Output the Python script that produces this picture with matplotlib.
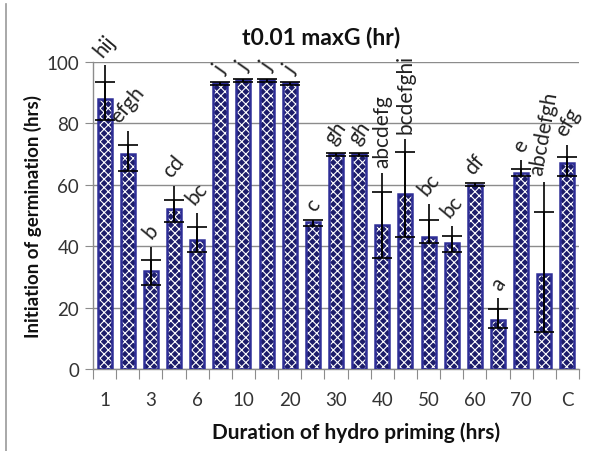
import matplotlib
matplotlib.use("Agg")
import matplotlib.pyplot as plt
from matplotlib.lines import Line2D

plt.rcParams['font.family'] = ['Lato', 'DejaVu Sans']
plt.rcParams['hatch.linewidth'] = 0.8

# ---- data ----
categories = ['1', '', '3', '', '6', '', '10', '', '20', '', '30', '', '40', '', '50', '', '60', '', '70', '', 'C']
values = [88, 70, 32, 52, 42, 93, 94, 94, 93, 48, 70, 70, 47, 57, 43, 41, 60, 16, 64, 31, 67]
cap_low = [81, 64.5, 27.4, 48, 38, 92.5, 93.5, 93.5, 92.5, 46.5, 69.5, 69.5, 36, 43, 41, 38, 59.5, 13.4, 63, 12, 63]
cap_high = [93.5, 73, 35.5, 55, 46.3, 93.5, 94.5, 94.5, 93.5, 48.5, 70.5, 70.5, 57.6, 70.6, 48.6, 43.3, 60.5, 19.5, 65, 51, 69]
whisker_top = [99, 77.5, 39.7, 59.7, 50.8, 93.5, 94.5, 94.5, 93.5, 48.5, 70.5, 70.5, 64, 75, 53.7, 46.6, 60.5, 23, 68, 61, 73]
letters = ['hij', 'efgh', 'b', 'cd', 'bc', 'j', 'j', 'j', 'j', 'c', 'gh', 'gh', 'abcdefg', 'bcdefghi',
           'bc', 'bc', 'df', 'a', 'e', 'abcdefgh', 'efg']
letter_rot = [50, 50, 50, 50, 50, 55, 55, 55, 55, 55, 55, 55, 90, 90, 50, 50, 50, 55, 60, 80, 60]
yticks = [0, 20, 40, 60, 80, 100]

fig = plt.figure(figsize=(5.92, 4.52), dpi=100)
ax = fig.add_axes([93/592, 82/452, (579-93)/592, (370-63)/452])

x = list(range(len(values)))
navy = '#1d1d6a'
ax.bar(x, values, width=0.6, color=navy, edgecolor='white', hatch='xxxx', linewidth=0, zorder=2)
ax.bar(x, values, width=0.6, fill=False, edgecolor='#2e2e96', linewidth=1.8, zorder=3)

lo = [v - c for v, c in zip(values, cap_low)]
hi_line = [t - v for v, t in zip(values, whisker_top)]
hi_cap = [c - v for v, c in zip(values, cap_high)]
ax.errorbar(x, values, yerr=[lo, hi_line], fmt='none', ecolor='black', elinewidth=1.2, capsize=0, zorder=4)
ax.errorbar(x, values, yerr=[lo, hi_cap], fmt='none', ecolor='black', elinewidth=1.2, capsize=7,
            capthick=1.2, zorder=4)

for i, (t, lab, r) in enumerate(zip(whisker_top, letters, letter_rot)):
    ax.annotate(lab, (i, t), xytext=(0, 4), textcoords='offset points', ha='center', va='bottom',
                rotation=r, fontsize=15, color='#222222', annotation_clip=False, zorder=5)

ax.set_ylim(0, 100)
ax.set_xlim(-0.5, len(values) - 0.5)
ax.set_yticks(yticks)
ax.yaxis.grid(True, color='#8c8c8c', linewidth=1.0)
ax.set_axisbelow(True)
for s in ['top', 'right']:
    ax.spines[s].set_visible(False)
for s in ['left', 'bottom']:
    ax.spines[s].set_color('#8c8c8c')
    ax.spines[s].set_linewidth(1.0)

ax.set_xticks([i - 0.5 for i in range(len(values) + 1)])
ax.set_xticklabels([])
ax.set_xticks(x, minor=True)
ax.set_xticklabels(categories, minor=True)
ax.tick_params(axis='x', which='major', length=7, color='#8c8c8c', direction='out')
ax.tick_params(axis='x', which='minor', length=0, pad=16, labelsize=13.5, labelcolor='#333333')
ax.tick_params(axis='y', length=6, color='#8c8c8c', labelsize=13.5, labelcolor='#333333', pad=4)

ax.set_ylabel('Initiation of germination (hrs)', fontsize=13.5, fontweight='bold', color='#111111', labelpad=3)
fig.text(356/592, 1 - 433/452, 'Duration of hydro priming (hrs)', ha='center', va='center',
         fontsize=15, fontweight='bold', color='#111111')
fig.text(321/592, 1 - 38/452, 't0.01 maxG (hr)', ha='center', va='center',
         fontsize=16.5, fontweight='bold', color='#111111')

fig.add_artist(Line2D([6/592, 6/592], [0, 1 - 5/452], transform=fig.transFigure, color='#999999', linewidth=1.2))

fig.savefig('out.png', dpi=100)
